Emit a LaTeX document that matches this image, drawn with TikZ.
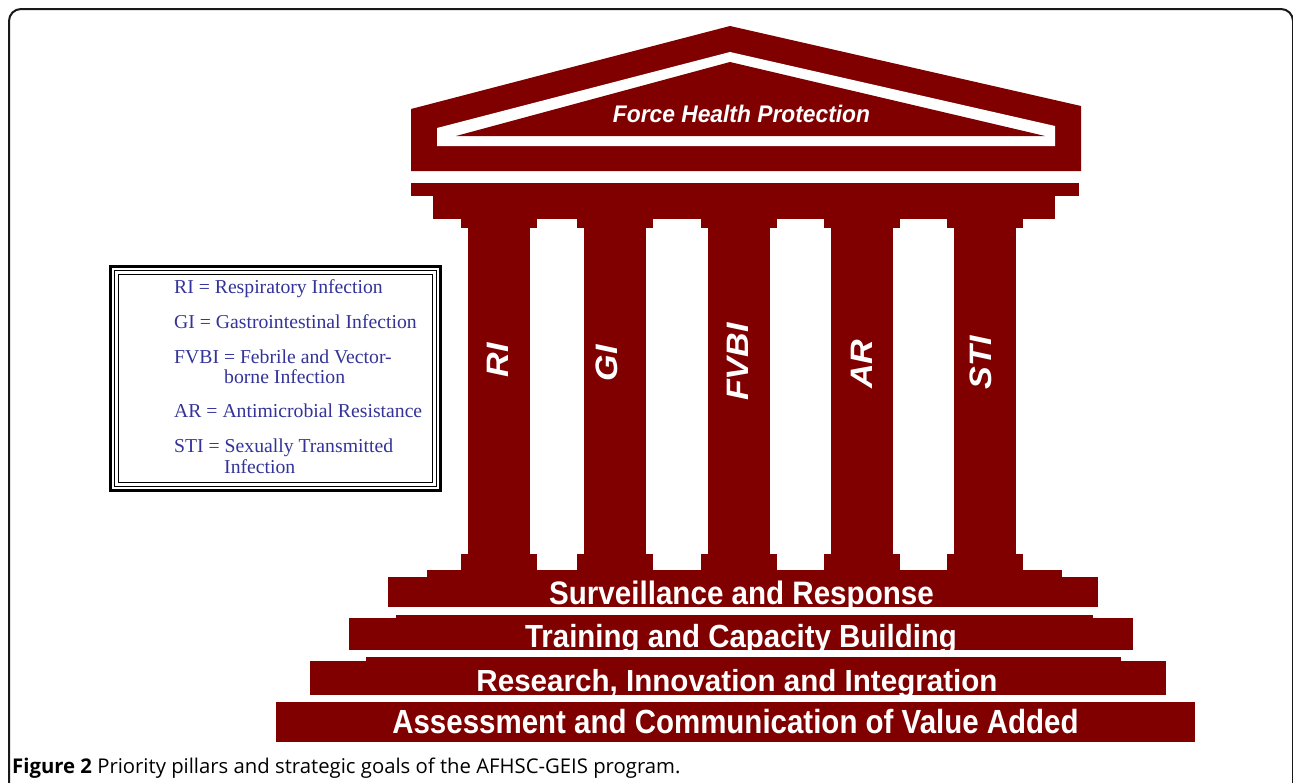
\documentclass[tikz,border=0pt]{standalone}
\usepackage{fontspec}
\setmainfont{Liberation Serif}
\setsansfont{Liberation Sans}
\newfontfamily\capfont{Open Sans}
\definecolor{maroon}{RGB}{128,0,0}
\definecolor{legblue}{RGB}{51,51,153}
\tikzset{
  temple/.style={fill=maroon},
  steptext/.style={text=white, inner sep=0, anchor=base},
  pillartext/.style={text=white, inner sep=0, rotate=90, anchor=center,
    font=\fontsize{31}{31}\selectfont\sffamily\bfseries\itshape},
  legtext/.style={text=legblue, inner sep=0, anchor=base west,
    font=\fontsize{19.7}{21}\selectfont},
  frameline/.style={draw=black!90, line width=2pt}
}
\begin{document}
\begin{tikzpicture}[x=1pt,y=-1pt]
\useasboundingbox (0,0) rectangle (1293,782);
\fill[white] (0,0) rectangle (1293,782);
% outer frame
\draw[frameline] (9,790) -- (9,21) arc[start angle=180,end angle=270,radius=12] -- (1281,9) arc[start angle=270,end angle=360,radius=12] -- (1293,790);
% roof
\fill[temple] (411,171) -- (411,109) -- (730,26) -- (1081,106) -- (1081,171) -- cycle;
\fill[white] (437,146) -- (437,128) -- (730,52) -- (1055,126) -- (1055,146) -- cycle;
\fill[temple] (456,136) -- (730,62) -- (1045,136) -- cycle;
% entablature
\fill[temple] (411,183) rectangle (1079,196);
\fill[temple] (433,195.5) rectangle (1055,219);
% pillars
\foreach \c in {499,615,739,862,985}{
  \fill[temple] (\c-38,218.5) rectangle (\c+38,228);
  \fill[temple] (\c-31,227.5) rectangle (\c+31,554.5);
  \fill[temple] (\c-38,554) rectangle (\c+38,570.5);
}
\fill[temple] (427,570) rectangle (1062,577.5);
% steps
\fill[temple] (388,577) rectangle (1098,607);
\fill[temple] (396,615) rectangle (1093,618.5);
\fill[temple] (349,618) rectangle (1133,650);
\fill[temple] (366,657) rectangle (1121,661.5);
\fill[temple] (310,661) rectangle (1166,695);
\fill[temple] (276,702) rectangle (1195,742);
% texts
\node[text=white, inner sep=0, anchor=base] (fhp) at (741.5,122)
  {\fontsize{24}{24}\selectfont\sffamily\bfseries\itshape\scalebox{0.95}[1]{Force Health Protection}};
\node[pillartext] (ri) at (498,360) {\scalebox{1.1}[1]{RI}};
\node[pillartext] (gi) at (607,363) {\scalebox{1.1}[1]{GI}};
\node[pillartext] (fvbi) at (738,362) {\scalebox{1.1}[1]{FVBI}};
\node[pillartext] (ar) at (862,364) {\scalebox{1.1}[1]{AR}};
\node[pillartext] (sti) at (981,363) {\scalebox{1.1}[1]{STI}};
\node[steptext] (s1) at (741.5,604)
  {\fontsize{32.5}{33}\selectfont\sffamily\bfseries\scalebox{0.91}[1]{Surveillance and Response}};
\node[steptext] (s2) at (741,647)
  {\fontsize{32}{33}\selectfont\sffamily\bfseries\scalebox{0.92}[1]{Training and Capacity Building}};
\node[steptext] (s3) at (737,691)
  {\fontsize{30.5}{33}\selectfont\sffamily\bfseries\scalebox{0.97}[1]{Research, Innovation and Integration}};
\node[steptext] (s4) at (735.5,733.3)
  {\fontsize{33.5}{34}\selectfont\sffamily\bfseries\scalebox{0.88}[1]{Assessment and Communication of Value Added}};
% legend
\draw[line width=3pt] (110.5,266.5) rectangle (440.5,490.5);
\draw[line width=1.5pt] (114.5,270.5) rectangle (436.5,486.5);
\draw[line width=1pt] (118.5,274.5) rectangle (432.5,482.5);
\node[legtext] (l1) at (174,293) {RI = Respiratory Infection};
\node[legtext] (l2) at (174,328) {GI = Gastrointestinal Infection};
\node[legtext] (l3) at (174,363) {FVBI = Febrile and Vector-};
\node[legtext] (l3b) at (224,383.3) {borne Infection};
\node[legtext] (l4) at (174,417.3) {AR = Antimicrobial Resistance};
\node[legtext] (l5) at (174,452.7) {STI = Sexually Transmitted};
\node[legtext] (l5b) at (224,473.3) {Infection};
% caption
\node[inner sep=0, anchor=base west] (cap) at (12,773.5)
  {\capfont\fontsize{20.3}{22}\selectfont\textbf{Figure 2} Priority pillars and strategic goals of the AFHSC-GEIS program.};
\end{tikzpicture}
\end{document}
